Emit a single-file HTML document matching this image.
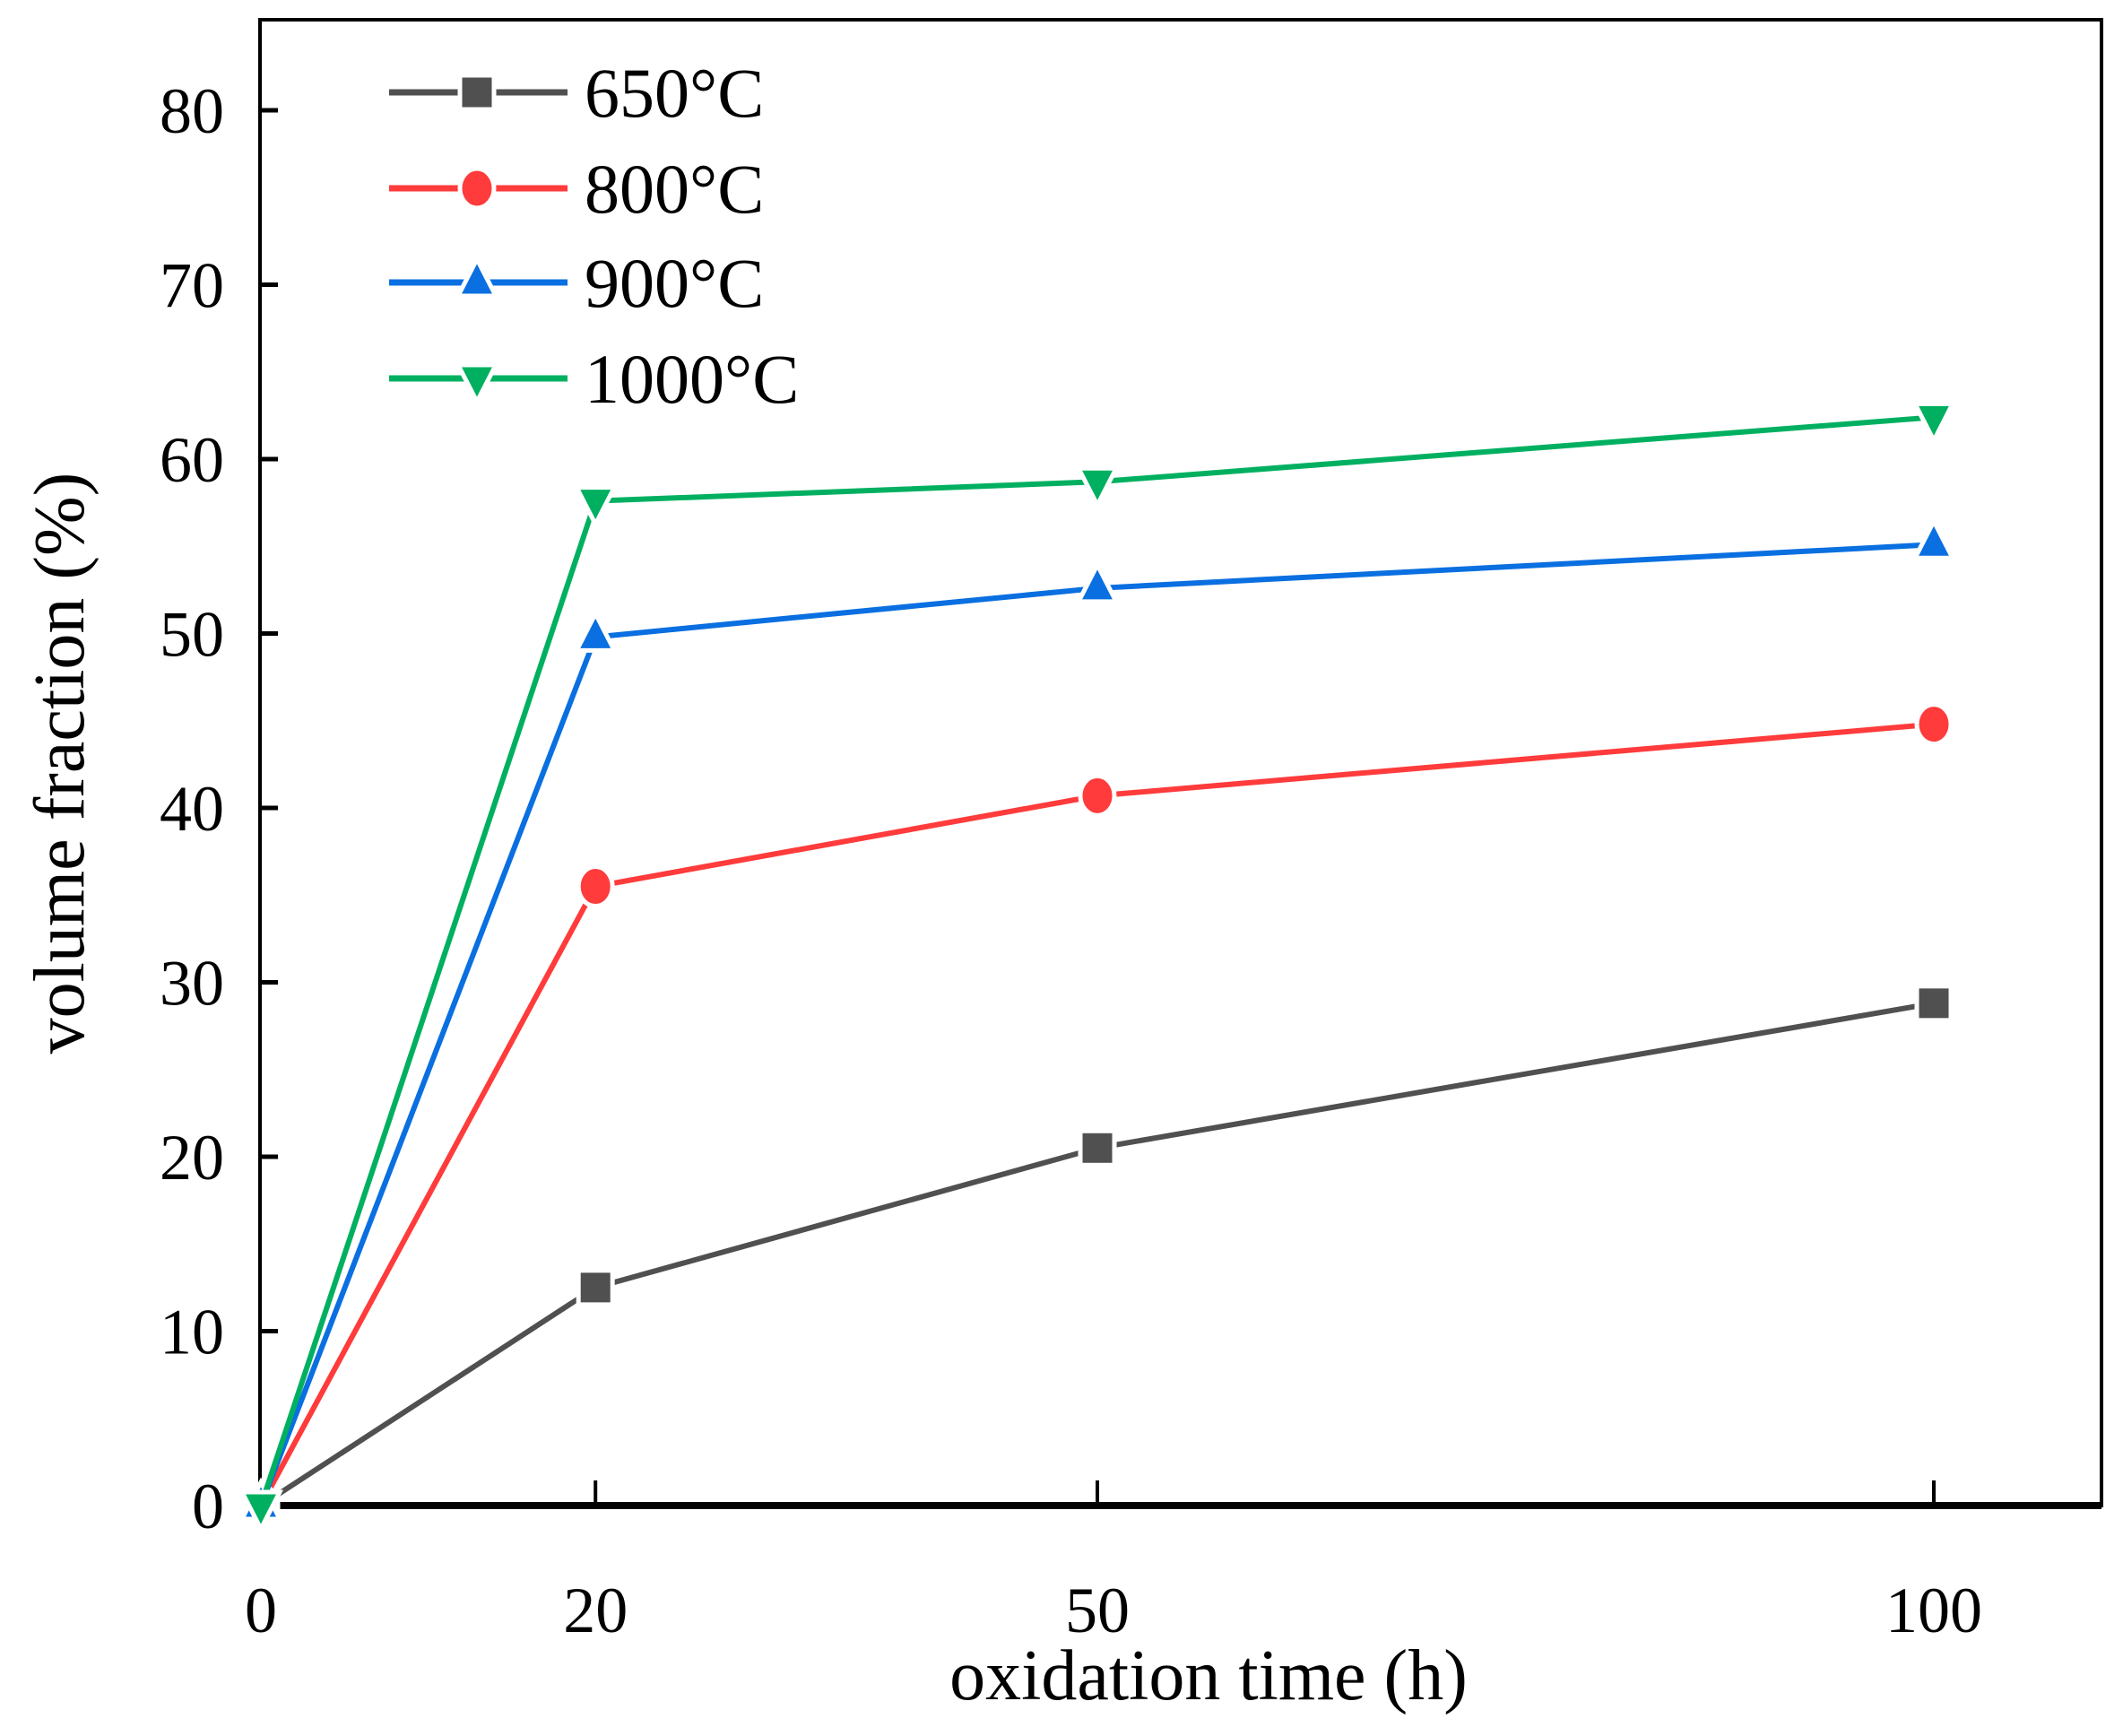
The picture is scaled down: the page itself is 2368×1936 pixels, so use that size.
<!DOCTYPE html>
<html><head><meta charset="utf-8"><style>
html,body{margin:0;padding:0;background:#fff;}
svg{display:block;font-family:"Liberation Serif",serif;}
</style></head><body>
<svg id="chart" width="2368" height="1936" viewBox="0 0 2368 1936" xmlns="http://www.w3.org/2000/svg">
<g id="axes"></g>
<g id="series"></g>
<g id="legend"></g>
<text x="1348" y="1895" font-size="80" text-anchor="middle">oxidation time (h)</text>
<text transform="translate(93,851) rotate(-90)" font-size="80" text-anchor="middle">volume fraction (%)</text>
</svg>
<script>
const xValues = [0, 20, 50, 100];
const xTickLabels = ["0", "20", "50", "100"];
const yTickValues = [0, 10, 20, 30, 40, 50, 60, 70, 80];
const seriesNames = ["650°C", "800°C", "900°C", "1000°C"];
const s650 = [0, 12.5, 20.5, 28.8];
const s800 = [0, 35.5, 40.7, 44.8];
const s900 = [0, 49.8, 52.6, 55.1];
const s1000 = [0, 57.6, 58.7, 62.4];

const NS = "http://www.w3.org/2000/svg";
const L = 290, R = 2344, T = 22, B = 1679;
function xs(v){ return 291 + (v/100)*(2157-291); }
function ys(v){ return 1679 - v*19.45; }
function mk(tag, attrs, parent){ const e=document.createElementNS(NS,tag); for(const k in attrs) e.setAttribute(k,attrs[k]); parent.appendChild(e); return e; }

const axes = document.getElementById('axes');
let frame = mk('rect',{x:L,y:T,width:R-L,height:B-T,fill:'none',stroke:'#000','stroke-width':4},axes);


let bax = mk('line',{x1:L,y1:B,x2:R,y2:B,stroke:'#000','stroke-width':8},axes);


xValues.forEach((v,i)=>{
  const x=xs(v);
  if(i>0){ const t=mk('line',{x1:x,y1:B,x2:x,y2:B-28,stroke:'#000','stroke-width':4},axes);
    
     }
  const lb=mk('text',{x:x,y:1820,'font-size':72,'text-anchor':'middle'},axes);
  lb.textContent=xTickLabels[i];
  
  
});
yTickValues.forEach(v=>{
  const y=ys(v);
  const t=mk('line',{x1:L,y1:y,x2:L+20,y2:y,stroke:'#000','stroke-width':5},axes);
  
  
  const lb=mk('text',{x:250,y:y+25,'font-size':72,'text-anchor':'end'},axes);
  lb.textContent=String(v);
  
  
});

const colors=['#505050','#ff3b3b','#0a6fe0','#00b060'];
const shapes=['square','circle','up','down'];
const data=[s650,s800,s900,s1000];
function marker(shape,cx,cy,color,parent){
  const st={fill:color,stroke:'#fff','stroke-width':5};
  let e;
  if(shape==='square') e=mk('rect',Object.assign({x:cx-19,y:cy-19,width:38,height:38},st),parent);
  else if(shape==='circle') e=mk('ellipse',Object.assign({cx:cx,cy:cy,rx:19,ry:22},st),parent);
  else if(shape==='up') e=mk('polygon',Object.assign({points:`${cx},${cy-26} ${cx+21},${cy+15} ${cx-21},${cy+15}`},st),parent);
  else e=mk('polygon',Object.assign({points:`${cx-21},${cy-15} ${cx+21},${cy-15} ${cx},${cy+26}`},st),parent);
  return e;
}
const sg=document.getElementById('series');
data.forEach((d,si)=>{
  const g=mk('g',{},sg);
  
  
  const pts=d.map((v,i)=>xs(xValues[i])+','+ys(v)).join(' ');
  const pl=mk('polyline',{points:pts,fill:'none',stroke:colors[si],'stroke-width':6},g);
  
  
  d.forEach((v,i)=>{
    const m=marker(shapes[si],xs(xValues[i]),ys(v),colors[si],g);
    
    
  });
});

const lg=document.getElementById('legend');
const rowsY=[103,210,315,422];
seriesNames.forEach((n,i)=>{
  const g=mk('g',{},lg);
  
  
  mk('line',{x1:434,y1:rowsY[i],x2:633,y2:rowsY[i],stroke:colors[i],'stroke-width':7},g);
  marker(shapes[i],532,rowsY[i],colors[i],g);
  const t=mk('text',{x:652,y:rowsY[i]+27,'font-size':78},g);
  t.textContent=n;
});
</script>
</body></html>
